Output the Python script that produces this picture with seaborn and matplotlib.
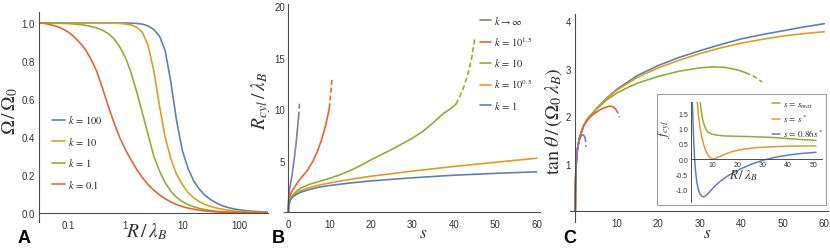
import numpy as np
import pandas as pd
import matplotlib
matplotlib.use("Agg")
import matplotlib.pyplot as plt
import seaborn as sns
from matplotlib.ticker import FixedLocator, FixedFormatter, NullFormatter
from matplotlib.patches import Rectangle

# ---------------- data ----------------
# Panel A: Omega/Omega0 vs R/lambda_B
a_R = [0.031, 0.04, 0.05, 0.063, 0.079, 0.1, 0.126, 0.158, 0.2, 0.25, 0.316, 0.4, 0.5,
       0.63, 0.79, 1.0, 1.26, 1.58, 2.0, 2.5, 3.16, 4.0, 5.0, 6.3, 7.9, 10, 12.6, 15.8,
       20, 25, 31.6, 40, 50, 63, 79, 100, 126, 158, 200, 251, 323]
a_k100 = [1, 1, 1, 1, 1, 1, 1, 1, 1, 1, 1, 1, 1,
          1, 1, 1, 0.999, 0.998, 0.994, 0.985, 0.966, 0.93, 0.855, 0.69, 0.49, 0.33, 0.235, 0.17,
          0.125, 0.093, 0.07, 0.052, 0.039, 0.029, 0.022, 0.017, 0.013, 0.01, 0.008, 0.006, 0.005]
a_k10 = [1, 1, 1, 1, 1, 1, 1, 1, 1, 1, 1, 1, 1,
         0.999, 0.998, 0.995, 0.99, 0.978, 0.95, 0.885, 0.75, 0.56, 0.4, 0.285, 0.205, 0.15,
         0.108, 0.08, 0.059, 0.045, 0.034, 0.026, 0.02, 0.015, 0.011, 0.0085, 0.0065, 0.005,
         0.0038, 0.003, 0.0023]
a_k1 = [1, 1, 0.999, 0.999, 0.998, 0.997, 0.995, 0.992, 0.988, 0.982, 0.974, 0.962, 0.945,
        0.918, 0.877, 0.82, 0.74, 0.64, 0.525, 0.415, 0.30, 0.22, 0.16, 0.115, 0.083, 0.06,
        0.044, 0.033, 0.024, 0.018, 0.013, 0.0095, 0.007, 0.0052, 0.004, 0.003, 0.0023,
        0.0018, 0.0014, 0.001, 0.0008]
a_k01 = [1, 0.997, 0.99, 0.982, 0.97, 0.952, 0.928, 0.898, 0.86, 0.81, 0.745, 0.655, 0.565,
         0.478, 0.4, 0.335, 0.28, 0.23, 0.186, 0.15, 0.12, 0.095, 0.075, 0.058, 0.045, 0.034,
         0.026, 0.02, 0.015, 0.011, 0.008, 0.006, 0.0045, 0.0033, 0.0025, 0.0019, 0.0014,
         0.001, 0.0008, 0.0006, 0.0005]
a_labels = [r"$k\,=\,100$", r"$k\,=\,10$", r"$k\,=\,1$", r"$k\,=\,0.1$"]
a_xticks = [0.1, 1, 10, 100]
a_xticklabels = ["0.1", "1", "10", "100"]

# Panel B: R_cyl/lambda_B vs s  (solid part, dashed continuation)
b_inf_s = [0, 0.05, 0.15, 0.3, 0.6, 0.9, 1.2, 1.5, 1.8, 2.1, 2.35, 2.5]
b_inf_y = [0, 0.9, 1.6, 2.2, 2.9, 3.6, 4.5, 5.4, 6.4, 7.6, 8.7, 9.3]
b_inf_sd = [2.5, 2.6, 2.7]
b_inf_yd = [9.3, 10.0, 10.7]
b_k15_s = [0, 0.1, 0.3, 0.7, 1.3, 2, 3, 4.5, 6, 7, 8, 9, 9.6, 9.9]
b_k15_y = [0, 0.9, 1.4, 1.9, 2.3, 2.75, 3.3, 4.0, 5.0, 5.9, 7.0, 8.4, 9.5, 10.1]
b_k15_sd = [9.9, 10.2, 10.4, 10.55]
b_k15_yd = [10.1, 11.3, 12.2, 13.0]
b_k10_s = [0, 0.1, 0.5, 1, 2, 3, 5, 7.5, 10, 12.5, 15, 17.5, 20, 22.5, 25, 27.5, 30,
           32.5, 35, 37.5, 39, 40.5]
b_k10_y = [0, 0.8, 1.35, 1.65, 2.05, 2.35, 2.7, 3.0, 3.3, 3.65, 4.05, 4.55, 5.1, 5.6,
           6.1, 6.65, 7.2, 7.85, 8.7, 9.6, 10.0, 10.5]
b_k10_sd = [40.5, 41.5, 42.5, 43.5, 44.3, 45]
b_k10_yd = [10.5, 11.3, 12.3, 13.6, 15.0, 16.8]
b_s = [0, 0.1, 0.5, 1, 2, 3, 5, 7.5, 10, 15, 20, 25, 30, 40, 50, 60]
b_k05_y = [0, 0.75, 1.25, 1.55, 1.9, 2.1, 2.4, 2.65, 2.85, 3.2, 3.5, 3.75, 4.0, 4.45, 4.85, 5.25]
b_k1_y = [0, 0.7, 1.2, 1.45, 1.75, 1.95, 2.2, 2.45, 2.6, 2.85, 3.05, 3.2, 3.35, 3.6, 3.78, 3.93]
b_labels = [r"$k\rightarrow\infty$", r"$k\,=\,10^{1.5}$", r"$k\,=\,10$",
            r"$k\,=\,10^{0.5}$", r"$k\,=\,1$"]

# Panel C: tan(theta)/(Omega0 lambda_B) vs s
c_s = [0, 0.05, 0.2, 0.5, 1, 2, 3, 5, 7.5, 10, 15, 20, 25, 30, 35, 40, 45, 50, 55, 60]
c_blue = [0, 0.6, 1.0, 1.3, 1.55, 1.8, 1.95, 2.15, 2.38, 2.57, 2.86, 3.07, 3.24, 3.38,
          3.51, 3.63, 3.72, 3.8, 3.88, 3.95]
c_orange = [0, 0.6, 1.0, 1.3, 1.55, 1.8, 1.95, 2.15, 2.37, 2.55, 2.82, 3.02, 3.18, 3.32,
            3.44, 3.54, 3.62, 3.69, 3.74, 3.78]
c_green_s = [0, 0.05, 0.2, 0.5, 1, 2, 3, 5, 7.5, 10, 12.5, 15, 20, 25, 30, 33, 36, 39, 41]
c_green_y = [0, 0.6, 1.0, 1.3, 1.55, 1.8, 1.95, 2.14, 2.34, 2.49, 2.6, 2.7, 2.84, 2.95,
             3.02, 3.04, 3.03, 2.98, 2.92]
c_green_sd = [41, 43, 44.3, 45]
c_green_yd = [2.92, 2.84, 2.77, 2.72]
c_red_s = [0, 0.05, 0.2, 0.5, 1, 2, 3, 4, 5, 6, 7, 8, 8.8, 9.3, 9.7]
c_red_y = [0, 0.6, 1.0, 1.3, 1.55, 1.8, 1.93, 2.02, 2.08, 2.14, 2.18, 2.21, 2.21, 2.19, 2.15]
c_red_sd = [9.7, 10.1, 10.4, 10.6]
c_red_yd = [2.15, 2.1, 2.05, 1.98]
c_pur_s = [0, 0.05, 0.15, 0.3, 0.5, 0.8, 1.1, 1.5, 1.8, 2.1, 2.3]
c_pur_y = [0, 0.5, 0.8, 1.1, 1.3, 1.45, 1.53, 1.6, 1.61, 1.59, 1.56]
c_pur_sd = [2.3, 2.45, 2.5, 2.52]
c_pur_yd = [1.56, 1.5, 1.43, 1.36]

# Inset: f_cyl vs R/lambda_B
i_g_R = [5.0, 5.4, 5.8, 6.3, 7, 7.6, 8.5, 10, 12, 15, 20, 25, 30, 35, 40, 45, 51]
i_g_f = [1.95, 1.6, 1.38, 1.2, 1.03, 0.93, 0.86, 0.81, 0.78, 0.755, 0.745, 0.735, 0.72,
         0.70, 0.67, 0.64, 0.61]
i_o_R = [3.8, 4.2, 4.7, 5.2, 5.8, 6.5, 7.3, 8.2, 9.2, 10, 11, 12.5, 15, 18, 22, 27, 33, 40, 51]
i_o_f = [1.95, 1.55, 1.2, 0.92, 0.68, 0.46, 0.27, 0.12, 0.03, 0.005, 0.02, 0.07, 0.16, 0.25,
         0.32, 0.37, 0.40, 0.42, 0.43]
i_b_R = [1.9, 2.2, 2.5, 2.8, 3.2, 3.7, 4.3, 5, 5.7, 6.4, 7.2, 8.2, 9.5, 11, 13, 15.5, 18.5,
         22, 26, 30, 35, 40, 45, 51]
i_b_f = [1.95, 1.2, 0.55, 0.05, -0.4, -0.75, -1.0, -1.15, -1.22, -1.24, -1.21, -1.13, -1.01,
         -0.88, -0.73, -0.58, -0.43, -0.29, -0.15, -0.04, 0.06, 0.13, 0.18, 0.22]
i_labels = [r"$s\,=\,s_{max}$", r"$s\,=\,s^*$", r"$s\,=\,0.86s^*$"]

# ---------------- style ----------------
sns.set_style("white")
plt.rcParams['font.family'] = ['Liberation Sans', 'DejaVu Sans']
plt.rcParams['mathtext.fontset'] = 'stix'
plt.rcParams['axes.unicode_minus'] = False

BLUE = '#5E81B5'; ORANGE = '#E19C24'; GREEN = '#8FB032'; RED = '#EB6235'; PURPLE = '#8778B3'
AXC = '#4d4d4d'; TXT = '#333333'
LW = 1.2
DASH = (0, (3, 1.7))

W, H = 830, 251
fig = plt.figure(figsize=(W / 100, H / 100), dpi=100)


def rect(x0, y0, x1, y1):
    return [x0 / W, (H - y1) / H, (x1 - x0) / W, (y1 - y0) / H]


def draw(ax, xs, ys, color, ls='-', lw=LW):
    df = pd.DataFrame({'x': xs, 'y': ys})
    sns.lineplot(data=df, x='x', y='y', ax=ax, color=color, lw=lw, linestyle=ls,
                 estimator=None, sort=False)
    return ax.lines[-1]


def style(ax, labelsize=7, major=4, minor=2.2, lw=0.8):
    for s in ['top', 'right']:
        ax.spines[s].set_visible(False)
    for s in ['left', 'bottom']:
        ax.spines[s].set_color(AXC)
        ax.spines[s].set_linewidth(lw)
    ax.tick_params(which='both', direction='in', color=AXC, width=0.6,
                   labelsize=labelsize, labelcolor=TXT)
    ax.tick_params(which='major', length=major)
    ax.tick_params(which='minor', length=minor)
    ax.set_facecolor('none')
    ax.set_xlabel('')
    ax.set_ylabel('')
    ax.grid(False)


axA = fig.add_axes(rect(39.3, 13, 268.3, 223))
axB = fig.add_axes(rect(284, 5, 540, 213.3))
axC = fig.add_axes(rect(570, 15, 828, 223))
axI = fig.add_axes(rect(691, 103, 822, 203))
axC.set_zorder(1)
axI.set_zorder(3)

# ---- Panel A ----
hA = [draw(axA, a_R, a_k100, BLUE), draw(axA, a_R, a_k10, ORANGE),
      draw(axA, a_R, a_k1, GREEN), draw(axA, a_R, a_k01, RED)]
axA.set_xscale('log')
axA.set_xlim(0.031, 323)
axA.set_ylim(-0.0474, 1.058)
style(axA)
axA.spines['bottom'].set_position(('data', 0))
axA.xaxis.set_major_locator(FixedLocator(a_xticks))
axA.xaxis.set_major_formatter(FixedFormatter(a_xticklabels))
axA.xaxis.set_minor_locator(FixedLocator([m * 10.0 ** e for e in range(-2, 3)
                                          for m in range(2, 10)]))
axA.xaxis.set_minor_formatter(NullFormatter())
axA.yaxis.set_major_locator(FixedLocator([0, 0.2, 0.4, 0.6, 0.8, 1.0]))
axA.yaxis.set_major_formatter(FixedFormatter(["0.0", "0.2", "0.4", "0.6", "0.8", "1.0"]))
axA.yaxis.set_minor_locator(FixedLocator([i * 0.05 for i in range(0, 22)]))
axA.tick_params(axis='x', pad=5)
axA.tick_params(axis='y', pad=3)
axA.legend(hA, a_labels, loc='upper left', bbox_to_anchor=(51.7 / W, 1 - 114.5 / H),
           bbox_transform=fig.transFigure, frameon=False, fontsize=7.5,
           handlelength=1.25, handletextpad=0.35, labelspacing=0.9,
           borderpad=0, borderaxespad=0)

# ---- Panel B ----
hB = [draw(axB, b_inf_s, b_inf_y, PURPLE), draw(axB, b_k15_s, b_k15_y, RED),
      draw(axB, b_k10_s, b_k10_y, GREEN), draw(axB, b_s, b_k05_y, ORANGE),
      draw(axB, b_s, b_k1_y, BLUE)]
draw(axB, b_inf_sd, b_inf_yd, PURPLE, DASH)
draw(axB, b_k15_sd, b_k15_yd, RED, DASH)
draw(axB, b_k10_sd, b_k10_yd, GREEN, DASH)
axB.set_xlim(-1.04, 60.8)
axB.set_ylim(0, 20.22)
style(axB)
axB.spines['left'].set_position(('data', 0))
axB.xaxis.set_major_locator(FixedLocator([0, 10, 20, 30, 40, 50, 60]))
axB.xaxis.set_major_formatter(FixedFormatter(["0", "10", "20", "30", "40", "50", "60"]))
axB.xaxis.set_minor_locator(FixedLocator(list(range(0, 61, 2))))
axB.yaxis.set_major_locator(FixedLocator([5, 10, 15, 20]))
axB.yaxis.set_major_formatter(FixedFormatter(["5", "10", "15", "20"]))
axB.yaxis.set_minor_locator(FixedLocator(list(range(0, 21))))
axB.tick_params(axis='x', pad=5)
axB.tick_params(axis='y', pad=2.5)
axB.legend(hB, b_labels, loc='upper left', bbox_to_anchor=(480 / W, 1 - 15 / H),
           bbox_transform=fig.transFigure, frameon=False, fontsize=7.5,
           handlelength=1.05, handletextpad=0.3, labelspacing=0.8,
           borderpad=0, borderaxespad=0)

# ---- Panel C ----
draw(axC, c_s, c_blue, BLUE)
draw(axC, c_s, c_orange, ORANGE)
draw(axC, c_green_s, c_green_y, GREEN)
draw(axC, c_green_sd, c_green_yd, GREEN, DASH)
draw(axC, c_red_s, c_red_y, RED)
draw(axC, c_red_sd, c_red_yd, RED, DASH)
draw(axC, c_pur_s, c_pur_y, PURPLE)
draw(axC, c_pur_sd, c_pur_yd, PURPLE, DASH)
axC.set_xlim(-1.28, 60.9)
axC.set_ylim(-0.225, 4.154)
style(axC)
axC.spines['left'].set_position(('data', 0))
axC.spines['bottom'].set_position(('data', 0))
axC.xaxis.set_major_locator(FixedLocator([10, 20, 30, 40, 50, 60]))
axC.xaxis.set_major_formatter(FixedFormatter(["10", "20", "30", "40", "50", "60"]))
axC.xaxis.set_minor_locator(FixedLocator(list(range(2, 61, 2))))
axC.yaxis.set_major_locator(FixedLocator([1, 2, 3, 4]))
axC.yaxis.set_major_formatter(FixedFormatter(["1", "2", "3", "4"]))
axC.yaxis.set_minor_locator(FixedLocator([round(i * 0.2, 1) for i in range(1, 21)]))
axC.tick_params(axis='x', pad=5)
axC.tick_params(axis='y', pad=3)

# ---- Inset ----
fr = Rectangle((657 / W, 1 - 206 / H), (826 - 657) / W, (206 - 95) / H,
               transform=fig.transFigure, facecolor='white', edgecolor='#a0a0a0',
               lw=0.8, zorder=2)
fig.add_artist(fr)
hI = [draw(axI, i_g_R, i_g_f, GREEN, lw=1.1), draw(axI, i_o_R, i_o_f, ORANGE, lw=1.1),
      draw(axI, i_b_R, i_b_f, BLUE, lw=1.1)]
axI.set_xlim(1.4, 53.4)
axI.set_ylim(-1.41, 1.87)
style(axI, labelsize=5, major=2.5, minor=1.4, lw=0.7)
axI.spines['bottom'].set_position(('data', 0))
axI.xaxis.set_major_locator(FixedLocator([10, 20, 30, 40, 50]))
axI.xaxis.set_major_formatter(FixedFormatter(["10", "20", "30", "40", "50"]))
axI.xaxis.set_minor_locator(FixedLocator(list(range(2, 53, 2))))
axI.yaxis.set_major_locator(FixedLocator([-1.0, -0.5, 0, 0.5, 1.0, 1.5]))
axI.yaxis.set_major_formatter(FixedFormatter(["-1.0", "-0.5", "0.0", "0.5", "1.0", "1.5"]))
axI.yaxis.set_minor_locator(FixedLocator([round(-1.4 + 0.1 * i, 1) for i in range(0, 33)]))
axI.tick_params(axis='x', pad=1.5)
axI.tick_params(axis='y', pad=2)
axI.legend(hI, i_labels, loc='upper left', bbox_to_anchor=(771.7 / W, 1 - 100.5 / H),
           bbox_transform=fig.transFigure, frameon=False, fontsize=6.5,
           handlelength=0.9, handletextpad=0.3, labelspacing=0.35,
           borderpad=0, borderaxespad=0)

# ---- text labels ----
def ftext(x, y, s, **kw):
    fig.text(x / W, 1 - y / H, s, color=TXT, **kw)

ftext(147, 237, r"$R\,/\,\lambda_B$", ha='center', va='baseline', fontsize=14)
ftext(423.5, 238, r"$s$", ha='center', va='baseline', fontsize=12.5)
ftext(707.5, 238, r"$s$", ha='center', va='baseline', fontsize=12.5)
ftext(10.5, 111, r"$\Omega\,/\,\Omega_0$", ha='center', va='center', rotation=90, fontsize=14)
ftext(261.5, 101, r"$R_{cyl}\,/\,\lambda_B$", ha='center', va='center', rotation=90,
      fontsize=14)
ftext(554, 121, r"$\mathrm{tan}\;\theta\,/\,(\Omega_0\,\lambda_B)$", ha='center',
      va='center', rotation=90, fontsize=14.5)
ftext(743.5, 179, r"$R\,/\,\lambda_B$", ha='center', va='baseline', fontsize=9.5)
ftext(665, 129, r"$f_{cyl}$", ha='center', va='center', rotation=90, fontsize=9.5)

for x, lab in [(18, "A"), (271.5, "B"), (563, "C")]:
    fig.text(x / W, 1 - 243 / H, lab, fontsize=13, fontweight='bold', color='black',
             ha='left', va='baseline')

fig.savefig("out.png", dpi=100)
